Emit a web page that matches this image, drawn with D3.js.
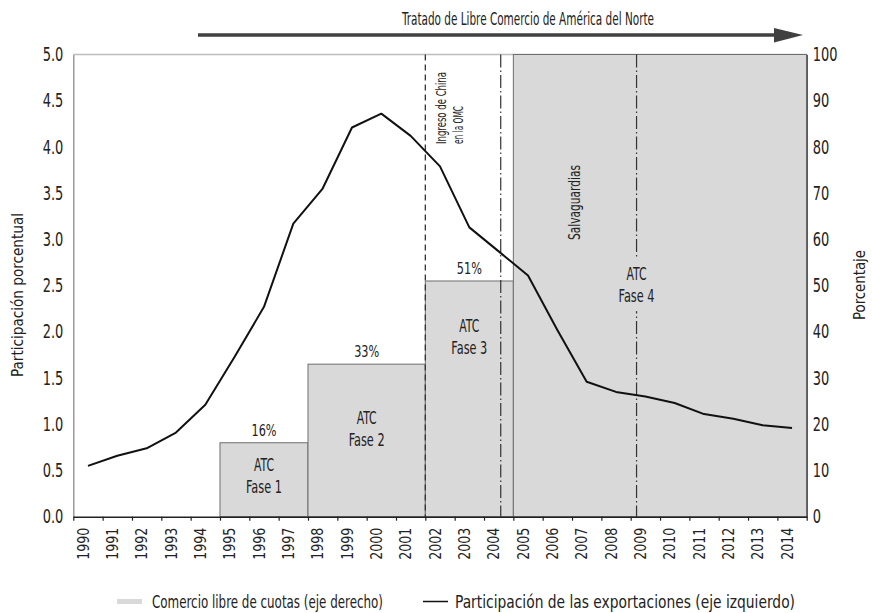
<!DOCTYPE html>
<meta charset="utf-8">
<title>Participación de las exportaciones</title>
<style>
  body { margin: 0; background: #fff; }
  svg text { font-family: "DejaVu Sans Condensed", "Liberation Sans Narrow", sans-serif; fill: #222; }
</style>
<svg width="872" height="613"></svg>
<script src="https://cdn.jsdelivr.net/npm/d3@7/dist/d3.min.js"></script>
<script>

// years on the x axis
var years = ["1990","1991","1992","1993","1994","1995","1996","1997","1998","1999","2000","2001",
             "2002","2003","2004","2005","2006","2007","2008","2009","2010","2011","2012","2013","2014"];

// export share (left axis, %)
var exportShare = [0.55, 0.66, 0.74, 0.91, 1.21, 1.73, 2.27, 3.17, 3.55, 4.21, 4.36, 4.12,
                   3.79, 3.13, 2.87, 2.61, 2.02, 1.46, 1.35, 1.30, 1.23, 1.11, 1.06, 0.99, 0.96];

// quota free trade phases (right axis, %)
var phaseStart = [1995, 1998, 2002, 2005];
var phaseEnd   = [1998, 2002, 2005, 2015];
var phasePct   = [16, 33, 51, 100];
var phaseNames = ["Fase 1", "Fase 2", "Fase 3", "Fase 4"];
var phaseTags  = ["16%", "33%", "51%", ""];

var leftTicks  = [0, 0.5, 1, 1.5, 2, 2.5, 3, 3.5, 4, 4.5, 5];
var rightTicks = [0, 10, 20, 30, 40, 50, 60, 70, 80, 90, 100];

var svg = d3.select("svg");

var pL = 73.3, pR = 806.7, pT = 54.5, pB = 516.7;

var x = d3.scaleBand().domain(years).range([pL, pR]);
var xl = d3.scaleLinear().domain([1990, 2015]).range([pL, pR]);
var yL = d3.scaleLinear().domain([0, 5]).range([pB, pT]);
var yR = d3.scaleLinear().domain([0, 100]).range([pB, pT]);

// squeeze a text to look like the narrow original font
function narrow(sel, k) {
  sel.each(function() {
    var w = this.getComputedTextLength();
    d3.select(this).attr("textLength", w * k).attr("lengthAdjust", "spacingAndGlyphs");
  });
}

// top border of the plot
svg.append("line")
    .attr("x1", pL).attr("x2", pR)
    .attr("y1", pT).attr("y2", pT)
    .attr("stroke", "#bdbdbd").attr("stroke-width", 1.5);

// phase boxes
svg.append("g")
  .selectAll("rect")
  .data(phasePct)
  .enter().append("rect")
    .attr("x", function(d, i) { return xl(phaseStart[i]); })
    .attr("width", function(d, i) { return xl(phaseEnd[i]) - xl(phaseStart[i]); })
    .attr("y", function(d) { return yR(d); })
    .attr("height", function(d) { return yR(0) - yR(d); })
    .attr("fill", "#d9d9d9")
    .attr("stroke", "#6e6e6e")
    .attr("stroke-width", 1);

// percent tags above boxes
svg.append("g")
  .selectAll("text")
  .data(phaseTags.slice(0, 3))
  .enter().append("text")
    .attr("x", function(d, i) { return (xl(phaseStart[i]) + xl(phaseEnd[i])) / 2 - 12.5; })
    .attr("y", function(d, i) { return yR(phasePct[i]) - 7; })
    .attr("textLength", 25)
    .attr("lengthAdjust", "spacingAndGlyphs")
    .style("font-size", "16px")
    .text(function(d) { return d; });

// vertical event lines
svg.append("line")
    .attr("x1", xl(2002)).attr("x2", xl(2002))
    .attr("y1", pT).attr("y2", pB)
    .attr("stroke", "#333").attr("stroke-width", 1.3)
    .attr("stroke-dasharray", "6,4");

[2004.57, 2009.2].forEach(function(v) {
  svg.append("line")
      .attr("x1", xl(v)).attr("x2", xl(v))
      .attr("y1", pT).attr("y2", pB)
      .attr("stroke", "#333").attr("stroke-width", 1.2)
      .attr("stroke-dasharray", "13,3,1.5,3");
});

// ATC labels inside boxes
var labelMid = [8.9, 19, 38.9, 50.1];
var atc = svg.append("g");
phaseNames.forEach(function(name, i) {
  var cx = (xl(phaseStart[i]) + xl(phaseEnd[i])) / 2;
  if (i == 3) cx = xl(2009.2);
  var cy = yR(labelMid[i]);
  if (i == 3) {
    atc.append("rect")
        .attr("x", cx - 22).attr("y", cy - 26)
        .attr("width", 44).attr("height", 52)
        .attr("fill", "#d9d9d9");
  }
  atc.append("text")
      .attr("x", cx - 10).attr("y", cy - 5)
      .attr("textLength", 20).attr("lengthAdjust", "spacingAndGlyphs")
      .style("font-size", "17px")
      .text("ATC");
  atc.append("text")
      .attr("x", cx - 18).attr("y", cy + 17)
      .attr("textLength", 36).attr("lengthAdjust", "spacingAndGlyphs")
      .style("font-size", "17px")
      .text(name);
});

// rotated notes
svg.append("text")
    .attr("transform", "translate(446,144) rotate(-90)")
    .attr("textLength", 72).attr("lengthAdjust", "spacingAndGlyphs")
    .style("font-size", "14px")
    .text("Ingreso de China");
svg.append("text")
    .attr("transform", "translate(463,144) rotate(-90)")
    .attr("textLength", 38).attr("lengthAdjust", "spacingAndGlyphs")
    .style("font-size", "14px")
    .text("en la OMC");

svg.append("text")
    .attr("transform", "translate(580,240) rotate(-90)")
    .attr("textLength", 75).attr("lengthAdjust", "spacingAndGlyphs")
    .style("font-size", "16px")
    .text("Salvaguardias");

// export share line
var line = d3.line()
    .x(function(d, i) { return x(years[i]) + x.bandwidth() / 2; })
    .y(function(d) { return yL(d); });

svg.append("path")
    .attr("d", line(exportShare))
    .attr("fill", "none")
    .attr("stroke", "#111")
    .attr("stroke-width", 2)
    .attr("stroke-linejoin", "round");

// left axis
var gL = svg.append("g")
    .attr("transform", "translate(" + pL + ",0)")
    .call(d3.axisLeft(yL).tickValues(leftTicks).tickFormat(d3.format(".1f")).tickSize(0).tickPadding(10));
gL.select(".domain").attr("stroke", "#9a9a9a").attr("stroke-width", 1.5);
gL.selectAll("text").style("font-size", "19px").style("font-family", null).attr("fill", "#222");
narrow(gL.selectAll("text"), 0.76);

// right axis
var gR = svg.append("g")
    .attr("transform", "translate(" + pR + ",0)")
    .call(d3.axisRight(yR).tickValues(rightTicks).tickSize(0).tickPadding(6));
gR.select(".domain").attr("stroke", "#444").attr("stroke-width", 1.3);
gR.selectAll("text").style("font-size", "19px").style("font-family", null).attr("fill", "#222");
narrow(gR.selectAll("text"), 0.76);

// bottom axis: ticks between years
var gB = svg.append("g")
    .attr("transform", "translate(0," + pB + ")")
    .call(d3.axisBottom(xl).tickValues(d3.range(1990, 2016)).tickFormat("").tickSize(4).tickSizeOuter(0));
gB.select(".domain").attr("stroke", "#222").attr("stroke-width", 1.5);
gB.selectAll(".tick line").attr("stroke", "#222").attr("stroke-width", 1.2);

svg.append("g")
  .selectAll("text")
  .data(years)
  .enter().append("text")
    .attr("transform", function(d) { return "translate(" + (x(d) + x.bandwidth() / 2 - 5) + "," + (pB + 11) + ") rotate(-90)"; })
    .attr("text-anchor", "end")
    .attr("dy", "0.35em")
    .attr("textLength", 32).attr("lengthAdjust", "spacingAndGlyphs")
    .style("font-size", "16px")
    .text(function(d) { return d; });

// axis titles
svg.append("text")
    .attr("transform", "translate(23,377) rotate(-90)")
    .attr("textLength", 164).attr("lengthAdjust", "spacingAndGlyphs")
    .style("font-size", "16px")
    .text("Participación porcentual");

svg.append("text")
    .attr("transform", "translate(865,320) rotate(-90)")
    .attr("textLength", 70).attr("lengthAdjust", "spacingAndGlyphs")
    .style("font-size", "16px")
    .text("Porcentaje");

// NAFTA arrow
svg.append("line")
    .attr("x1", 198).attr("x2", 776)
    .attr("y1", 35).attr("y2", 35)
    .attr("stroke", "#404040").attr("stroke-width", 3.3);
svg.append("path")
    .attr("d", "M774,28 L803,35 L774,42.5 Z")
    .attr("fill", "#404040");
svg.append("text")
    .attr("x", 402).attr("y", 25)
    .attr("textLength", 252).attr("lengthAdjust", "spacingAndGlyphs")
    .style("font-size", "17px")
    .text("Tratado de Libre Comercio de América del Norte");

// legend
svg.append("rect")
    .attr("x", 117).attr("y", 599).attr("width", 25).attr("height", 5)
    .attr("fill", "#d9d9d9");
svg.append("text")
    .attr("x", 152).attr("y", 608)
    .attr("textLength", 231).attr("lengthAdjust", "spacingAndGlyphs")
    .style("font-size", "17px")
    .text("Comercio libre de cuotas (eje derecho)");
svg.append("line")
    .attr("x1", 423).attr("x2", 448).attr("y1", 601.5).attr("y2", 601.5)
    .attr("stroke", "#111").attr("stroke-width", 1.5);
svg.append("text")
    .attr("x", 455).attr("y", 608)
    .attr("textLength", 340).attr("lengthAdjust", "spacingAndGlyphs")
    .style("font-size", "17px")
    .text("Participación de las exportaciones (eje izquierdo)");

</script>
